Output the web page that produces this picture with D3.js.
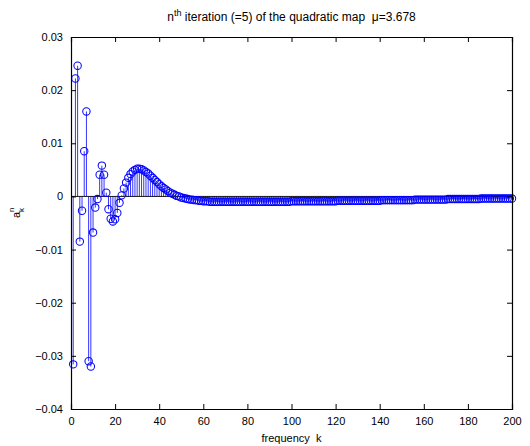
<!DOCTYPE html>
<html><head><meta charset="utf-8">
<script src="https://cdn.jsdelivr.net/npm/d3@7"></script>
<style>
body{margin:0;background:#fff;}
svg{display:block;font-family:Arial,"Liberation Sans",Helvetica,sans-serif;}
</style></head><body>
<svg id="c" width="530" height="446"></svg>
<script>
// frequency index k = 1..200
const kValues = d3.range(1, 201);
// coefficient a_k^n
const coefEarly = [
 -0.0316, 0.0222, 0.0246, -0.0085, -0.0027, 0.0085, 0.0160, -0.0310, -0.0320, -0.0068,
 -0.0021, -0.0005, 0.0041, 0.0058, 0.0041, 0.0007, -0.0024, -0.0042, -0.0047, -0.0043,
 -0.0031, -0.0012, 0.0002, 0.0015, 0.0026, 0.0035, 0.0042, 0.0047, 0.0050, 0.0052,
 0.0052, 0.0051, 0.0049, 0.0046, 0.0043, 0.0039, 0.0035, 0.0031, 0.0027, 0.0023,
 0.0019, 0.0016, 0.0013, 0.0010, 0.0007, 0.0005, 0.0003, 0.0001, 0.0000, -0.0002
];
const coefTail = [
 -0.0003, -0.0004, -0.0005, -0.0006, -0.0006, -0.0007, -0.0007, -0.0008, -0.0008, -0.0009,
 -0.0009, -0.0009, -0.0010, -0.0010, -0.0010, -0.0010, -0.0010, -0.0010, -0.0010, -0.0010,
 -0.0010, -0.0010, -0.0010, -0.0010, -0.0010, -0.0010, -0.0010, -0.0010, -0.0010, -0.0010,
 -0.0010, -0.0010, -0.0010, -0.0010, -0.0010, -0.0010, -0.0010, -0.0010, -0.0010, -0.0010,
 -0.0010, -0.0010, -0.0010, -0.0010, -0.0010, -0.0010, -0.0010, -0.0010, -0.0010, -0.0009,
 -0.0009, -0.0009, -0.0009, -0.0009, -0.0009, -0.0009, -0.0009, -0.0009, -0.0009, -0.0009,
 -0.0009, -0.0009, -0.0009, -0.0009, -0.0009, -0.0009, -0.0009, -0.0009, -0.0009, -0.0009,
 -0.0008, -0.0008, -0.0008, -0.0008, -0.0008, -0.0008, -0.0008, -0.0008, -0.0008, -0.0008,
 -0.0008, -0.0008, -0.0008, -0.0008, -0.0008, -0.0008, -0.0008, -0.0008, -0.0008, -0.0008,
 -0.0007, -0.0007, -0.0007, -0.0007, -0.0007, -0.0007, -0.0007, -0.0007, -0.0007, -0.0007,
 -0.0007, -0.0007, -0.0007, -0.0007, -0.0007, -0.0006, -0.0006, -0.0006, -0.0006, -0.0006,
 -0.0006, -0.0006, -0.0006, -0.0006, -0.0006, -0.0006, -0.0006, -0.0006, -0.0006, -0.0006,
 -0.0005, -0.0005, -0.0005, -0.0005, -0.0005, -0.0005, -0.0005, -0.0005, -0.0005, -0.0005,
 -0.0005, -0.0005, -0.0005, -0.0005, -0.0005, -0.0004, -0.0004, -0.0004, -0.0004, -0.0004,
 -0.0004, -0.0004, -0.0004, -0.0004, -0.0004, -0.0004, -0.0004, -0.0004, -0.0004, -0.0004
];
const coef = coefEarly.concat(coefTail);
const xTicks = [0, 20, 40, 60, 80, 100, 120, 140, 160, 180, 200];
const yTicks = [-0.04, -0.03, -0.02, -0.01, 0, 0.01, 0.02, 0.03];

const L = 71, T = 37, W = 441, H = 372;
const svg = d3.select("#c");
const x = d3.scaleLinear().domain([0, 200]).range([L, L + W]);
const y = d3.scaleLinear().domain([-0.04, 0.03]).range([T + H, T]);
const data = kValues.map((k, i) => ({k, v: coef[i]}));
const blue = "#0000ff";

const plot = svg.append("g");
// stems
plot.selectAll("line.stem").data(data).join("line")
  .attr("class", "stem")
  .attr("x1", d => x(d.k)).attr("x2", d => x(d.k))
  .attr("y1", y(0)).attr("y2", d => y(d.v))
  .attr("stroke", blue).attr("stroke-width", 0.8);
// baseline
plot.append("line")
  .attr("x1", x(0)).attr("x2", x(200)).attr("y1", y(0)).attr("y2", y(0))
  .attr("stroke", "#000").attr("stroke-width", 0.9);
// markers
plot.selectAll("circle").data(data).join("circle")
  .attr("cx", d => x(d.k)).attr("cy", d => y(d.v)).attr("r", 3.7)
  .attr("fill", "none").attr("stroke", blue).attr("stroke-width", 1.05);

// axes
const fmtY = v => v === 0 ? "0" : d3.format(".2f")(v).replace("-", "\u2212");
const ax = svg.append("g").attr("transform", `translate(0,${T + H})`)
  .call(d3.axisBottom(x).tickValues(xTicks).tickSize(-5).tickPadding(8).tickFormat(d3.format("d")));
const ax2 = svg.append("g").attr("transform", `translate(0,${T})`)
  .call(d3.axisTop(x).tickValues(xTicks).tickSize(-5).tickFormat(""));
const ay = svg.append("g").attr("transform", `translate(${L},0)`)
  .call(d3.axisLeft(y).tickValues(yTicks).tickSize(-5).tickPadding(8).tickFormat(fmtY));
const ay2 = svg.append("g").attr("transform", `translate(${L + W},0)`)
  .call(d3.axisRight(y).tickValues(yTicks).tickSize(-5).tickFormat(""));
[ax, ax2, ay, ay2].forEach(g => {
  g.select(".domain").attr("stroke", "#000").attr("stroke-width", 1.2);
  g.selectAll(".tick line").attr("stroke", "#000").attr("stroke-width", 1);
  g.selectAll(".tick text").attr("font-size", 11).attr("fill", "#000")
    .attr("font-family", "Arial, 'Liberation Sans', sans-serif");
});
// title
const title = svg.append("text").attr("x", L + W / 2).attr("y", 21)
  .attr("text-anchor", "middle").attr("font-size", 12).attr("fill", "#000")
  .attr("xml:space", "preserve");
title.append("tspan").text("n");
title.append("tspan").attr("dy", -5).attr("font-size", 9).text("th");
title.append("tspan").attr("dy", 5).text(" iteration (=5) of the quadratic map  \u03bc=3.678");

// x label
svg.append("text").attr("x", L + W / 2).attr("y", 442)
  .attr("text-anchor", "middle").attr("font-size", 11).attr("fill", "#000")
  .attr("xml:space", "preserve").text("frequency  k");

// y label
const yl = svg.append("g").attr("transform", "translate(20,214) rotate(-90)");
yl.append("text").attr("x", -4).attr("y", 0).attr("font-size", 11).text("a");
yl.append("text").attr("x", 2).attr("y", 4).attr("font-size", 8).text("k");
yl.append("text").attr("x", 2).attr("y", -6).attr("font-size", 8).text("n");
</script>
</body></html>
